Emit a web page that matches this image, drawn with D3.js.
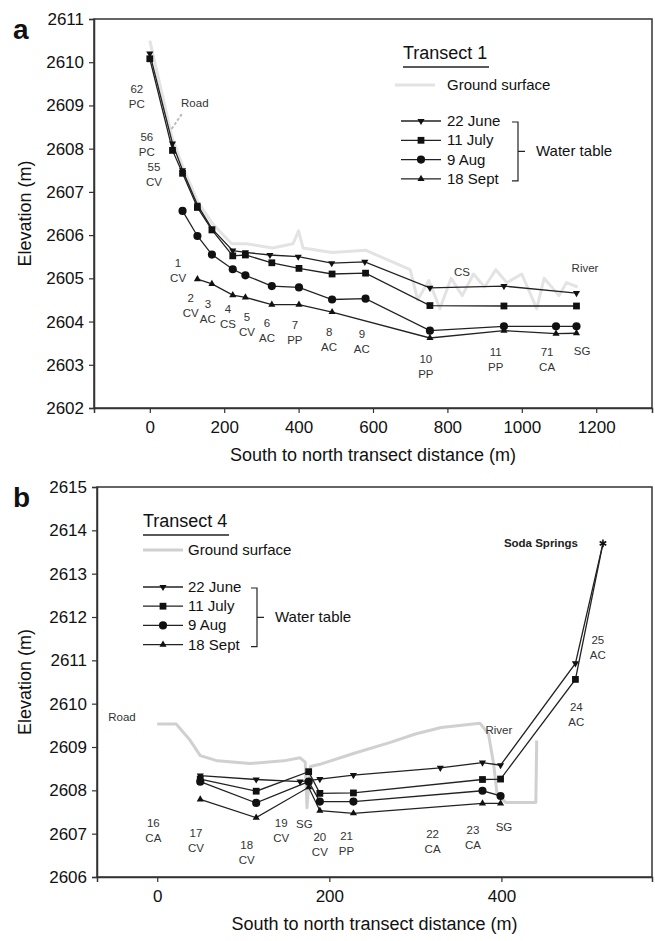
<!DOCTYPE html>
<html>
<head>
<meta charset="utf-8">
<script src="https://d3js.org/d3.v7.min.js"></script>
<style>
  body { margin: 0; background: #fff; }
  text { font-family: "Liberation Sans", Arial, sans-serif; }
</style>
</head>
<body>
<div id="viz"></div>
<script>
// ---- data (distance m, elevation m) ----
const seriesNames = ["22 June", "11 July", "9 Aug", "18 Sept"];

// Transect 1
const t1XTicks = [0, 200, 400, 600, 800, 1000, 1200];
const t1YTicks = [2602, 2603, 2604, 2605, 2606, 2607, 2608, 2609, 2610, 2611];
const t1June = [[0,2610.2],[61,2608.12],[88,2607.5],[128,2606.7],[167,2606.15],[223,2605.64],[257,2605.6],[323,2605.54],[399,2605.5],[489,2605.35],[578,2605.38],[753,2604.78],[952,2604.82],[1147,2604.66]];
const t1July = [[0,2610.08],[61,2607.96],[88,2607.43],[128,2606.64],[167,2606.12],[223,2605.52],[257,2605.54],[328,2605.36],[401,2605.23],[490,2605.1],[580,2605.12],[753,2604.37],[952,2604.36],[1147,2604.36]];
const t1Aug = [[88,2606.56],[128,2605.98],[167,2605.55],[223,2605.21],[257,2605.07],[328,2604.82],[401,2604.79],[490,2604.51],[580,2604.53],[753,2603.79],[952,2603.89],[1092,2603.89],[1147,2603.89]];
const t1Sept = [[128,2604.98],[167,2604.87],[223,2604.61],[257,2604.56],[328,2604.39],[401,2604.39],[490,2604.22],[753,2603.62],[952,2603.79],[1092,2603.72],[1147,2603.73]];
const t1Ground = [[0,2610.5],[60,2608.25],[90,2607.55],[130,2606.75],[170,2606.25],[220,2605.8],[260,2605.8],[330,2605.7],[385,2605.8],[400,2606.1],[412,2605.7],[490,2605.6],[580,2605.65],[700,2605.2],[720,2604.5],[750,2604.95],[780,2604.3],[810,2605.0],[840,2604.6],[870,2605.1],[900,2604.8],[930,2605.2],[960,2604.9],[1000,2605.1],[1040,2604.3],[1060,2605.0],[1100,2604.6],[1120,2604.9],[1150,2604.8]];
const t1Sites = [
  ["62","PC",-35,2609.38],["56","PC",-8,2608.27],["55","CV",11,2607.57],
  ["1","CV",76,2605.35],["2","CV",110,2604.54],["3","AC",156,2604.4],["4","CS",210,2604.29],
  ["5","CV",261,2604.1],["6","AC",315,2603.96],["7","PP",390,2603.92],["8","AC",482,2603.75],
  ["9","AC",570,2603.71],["10","PP",742,2603.13],["11","PP",930,2603.29],["71","CA",1068,2603.29],
  ["SG","",1162,2603.31],["CS","",839,2605.14],["River","",1170,2605.24],["Road","",121,2609.06]
];

// Transect 4
const t4XTicks = [0, 200, 400];
const t4YTicks = [2606, 2607, 2608, 2609, 2610, 2611, 2612, 2613, 2614, 2615];
const t4June = [[50,2608.34],[115,2608.25],[166,2608.2],[189,2608.26],[228,2608.35],[329,2608.52],[378,2608.64],[399,2608.58],[486,2610.93]];
const t4July = [[50,2608.26],[115,2607.98],[176,2608.43],[189,2607.93],[228,2607.94],[378,2608.25],[399,2608.26],[486,2610.56]];
const t4Aug = [[50,2608.2],[115,2607.71],[176,2608.2],[189,2607.74],[228,2607.74],[378,2607.99],[399,2607.87]];
const t4Sept = [[50,2607.79],[115,2607.37],[176,2608.07],[189,2607.53],[228,2607.47],[378,2607.7],[399,2607.7]];
const t4Spring = [518, 2613.7];
const t4Ground = [[0,2609.53],[22,2609.53],[38,2609.16],[50,2608.8],[70,2608.68],[108,2608.62],[147,2608.68],[166,2608.75],[172,2608.65],[174,2607.6],[178,2608.55],[189,2608.6],[228,2608.85],[270,2609.1],[300,2609.3],[330,2609.45],[375,2609.55],[385,2609.3],[391,2608.6],[395,2607.9],[405,2607.72],[440,2607.72],[441,2609.15]];
const t4Sites = [
  ["16","CA",-4.5,2607.24],["17","CV",45,2607.02],["18","CV",104,2606.74],["19","CV",144,2607.24],
  ["SG","",171,2607.22],["20","CV",189,2606.93],["21","PP",220,2606.95],["22","CA",320,2606.99],
  ["23","CA",367,2607.08],["SG","",403,2607.16],["River","",397,2609.39],["24","AC",487,2609.93],
  ["25","AC",512,2611.47],["Road","",-41,2609.7]
];

const W = 655, H = 941;
const svg = d3.select('#viz').append('svg')
  .attr('width', W).attr('height', H);

const symTypes = [
  {type: d3.symbolTriangle, size: 22, rot: 180},
  {type: d3.symbolSquare, size: 46, rot: 0},
  {type: d3.symbolCircle, size: 52, rot: 0},
  {type: d3.symbolTriangle, size: 22, rot: 0}
];

function marker(g, x, y, i) {
  g.append('path')
    .attr('d', d3.symbol(symTypes[i].type, symTypes[i].size)())
    .attr('transform', `translate(${x},${y}) rotate(${symTypes[i].rot})`)
    .attr('fill', '#111');
}

function drawPanel(p) {
  const x = d3.scaleLinear().domain(p.xDomain).range([p.left, p.right]);
  const y = d3.scaleLinear().domain(p.yDomain).range([p.bottom, p.top]);
  const g = svg.append('g');

  // frame
  g.append('rect')
    .attr('x', p.left).attr('y', p.top)
    .attr('width', p.right - p.left).attr('height', p.bottom - p.top)
    .attr('fill', 'none').attr('stroke', '#333').attr('stroke-width', 1.5);

  const ax = g.append('g').attr('transform', `translate(0,${p.bottom})`)
    .call(d3.axisBottom(x).tickValues(p.xTicks).tickSize(5).tickPadding(8).tickFormat(d3.format('d')));
  const ay = g.append('g').attr('transform', `translate(${p.left},0)`)
    .call(d3.axisLeft(y).tickValues(p.yTicks).tickSize(5).tickPadding(5).tickFormat(d3.format('d')));
  [ax, ay].forEach(a => {
    a.select('.domain').attr('stroke', '#333').attr('stroke-width', 1.5);
    a.selectAll('.tick line').attr('stroke', '#333').attr('stroke-width', 1.2);
    a.selectAll('.tick text').attr('font-size', 17).attr('fill', '#111')
      .attr('font-family', '"Liberation Sans", Arial, sans-serif');
  });

  // axis titles
  g.append('text')
    .attr('x', (p.left + p.right) / 2).attr('y', p.bottom + 53)
    .attr('text-anchor', 'middle').attr('font-size', 18).attr('fill', '#111')
    .text('South to north transect distance (m)');
  g.append('text')
    .attr('transform', `translate(31,${(p.top + p.bottom) / 2}) rotate(-90)`)
    .attr('text-anchor', 'middle').attr('font-size', 18).attr('fill', '#111')
    .text('Elevation (m)');
  g.append('text')
    .attr('x', 13).attr('y', p.top + 20)
    .attr('font-size', 28).attr('font-weight', 'bold').attr('fill', '#111')
    .text(p.letter);

  const line = d3.line().x(d => x(d[0])).y(d => y(d[1]));

  // ground surface
  g.append('path').datum(p.ground)
    .attr('d', line).attr('fill', 'none')
    .attr('stroke', p.groundColor).attr('stroke-width', 3).attr('stroke-linejoin', 'round');

  // water table series
  p.series.forEach((s, i) => {
    const pts = s.concat(p.extra && p.extra[i] ? [p.extra[i]] : []);
    g.append('path').datum(pts)
      .attr('d', line).attr('fill', 'none')
      .attr('stroke', '#222').attr('stroke-width', 1.3);
  });
  p.series.forEach((s, i) => {
    s.forEach(d => marker(g, x(d[0]), y(d[1]), i));
  });

  if (p.spring) {
    g.append('path')
      .attr('d', d3.symbol(d3.symbolAsterisk, 40)())
      .attr('transform', `translate(${x(p.spring[0])},${y(p.spring[1])})`)
      .attr('fill', 'none').attr('stroke', '#111').attr('stroke-width', 1.6);
    g.append('text')
      .attr('x', x(p.spring[0]) - 62).attr('y', y(p.spring[1]) + 4)
      .attr('text-anchor', 'middle').attr('font-size', 11.5).attr('font-weight', 'bold')
      .attr('fill', '#222').text('Soda Springs');
  }

  // site labels
  p.sites.forEach(s => {
    const t = g.append('text')
      .attr('x', x(s[2])).attr('y', y(s[3]) + 4)
      .attr('text-anchor', 'middle').attr('font-size', 11.5).attr('fill', '#333');
    t.append('tspan').attr('x', x(s[2])).text(s[0]);
    if (s[1]) t.append('tspan').attr('x', x(s[2])).attr('dy', 15).text(s[1]);
  });

  if (p.roadPointer) {
    g.append('line')
      .attr('x1', x(p.roadPointer[0][0])).attr('y1', y(p.roadPointer[0][1]))
      .attr('x2', x(p.roadPointer[1][0])).attr('y2', y(p.roadPointer[1][1]))
      .attr('stroke', '#bbb').attr('stroke-width', 2).attr('stroke-dasharray', '3,2');
  }

  // legend
  const L = p.legend;
  const lg = g.append('g');
  lg.append('text').attr('x', L.x).attr('y', L.titleY)
    .attr('font-size', 18).attr('fill', '#111').text(p.title);
  const tw = p.title.length * 8.6;
  lg.append('line').attr('x1', L.x).attr('x2', L.x + tw)
    .attr('y1', L.titleY + 8).attr('y2', L.titleY + 8)
    .attr('stroke', '#222').attr('stroke-width', 1.3);
  lg.append('line').attr('x1', L.gx0).attr('x2', L.gx0 + 40)
    .attr('y1', L.groundY).attr('y2', L.groundY)
    .attr('stroke', p.groundColor).attr('stroke-width', 3);
  lg.append('text').attr('x', L.tx).attr('y', L.groundY + 5)
    .attr('font-size', 15).attr('fill', '#111').text('Ground surface');
  seriesNames.forEach((n, i) => {
    const yy = L.y0 + i * L.dy;
    lg.append('line').attr('x1', L.lx0).attr('x2', L.lx0 + 40)
      .attr('y1', yy).attr('y2', yy).attr('stroke', '#222').attr('stroke-width', 1.3);
    marker(lg, L.lx0 + 20, yy, i);
    lg.append('text').attr('x', L.tx).attr('y', yy + 5)
      .attr('font-size', 15).attr('fill', '#111').text(n);
  });
  const yTop = L.y0 + 1, yBot = L.y0 + 3 * L.dy + 2, yMid = (yTop + yBot) / 2;
  lg.append('path')
    .attr('d', `M${L.bx - 6},${yTop}H${L.bx}V${yBot}H${L.bx - 6}M${L.bx},${yMid}H${L.bx + 7}`)
    .attr('fill', 'none').attr('stroke', '#222').attr('stroke-width', 1.2);
  lg.append('text').attr('x', L.bx + 18).attr('y', yMid + 5)
    .attr('font-size', 15).attr('fill', '#111').text('Water table');
}

drawPanel({
  letter: 'a', title: 'Transect 1',
  left: 94, right: 652, top: 19, bottom: 408,
  xDomain: [-150, 1350], yDomain: [2602, 2611],
  xTicks: t1XTicks, yTicks: t1YTicks,
  series: [t1June, t1July, t1Aug, t1Sept],
  ground: t1Ground, sites: t1Sites, groundColor: '#e3e3e3',
  roadPointer: [[86, 2608.8], [58, 2608.45]],
  legend: {x: 403, titleY: 59, gx0: 395, groundY: 85, lx0: 401, tx: 447, y0: 121, dy: 19.3, bx: 518}
});

drawPanel({
  letter: 'b', title: 'Transect 4',
  left: 97, right: 652, top: 487, bottom: 877,
  xDomain: [-70, 575], yDomain: [2606, 2615],
  xTicks: t4XTicks, yTicks: t4YTicks,
  series: [t4June, t4July, t4Aug, t4Sept],
  extra: [t4Spring, t4Spring],
  spring: t4Spring,
  ground: t4Ground, sites: t4Sites, groundColor: '#d0d0d0',
  legend: {x: 143, titleY: 527, gx0: 143, groundY: 550, lx0: 143, tx: 188, y0: 587, dy: 19.2, bx: 257}
});
</script>
</body>
</html>
